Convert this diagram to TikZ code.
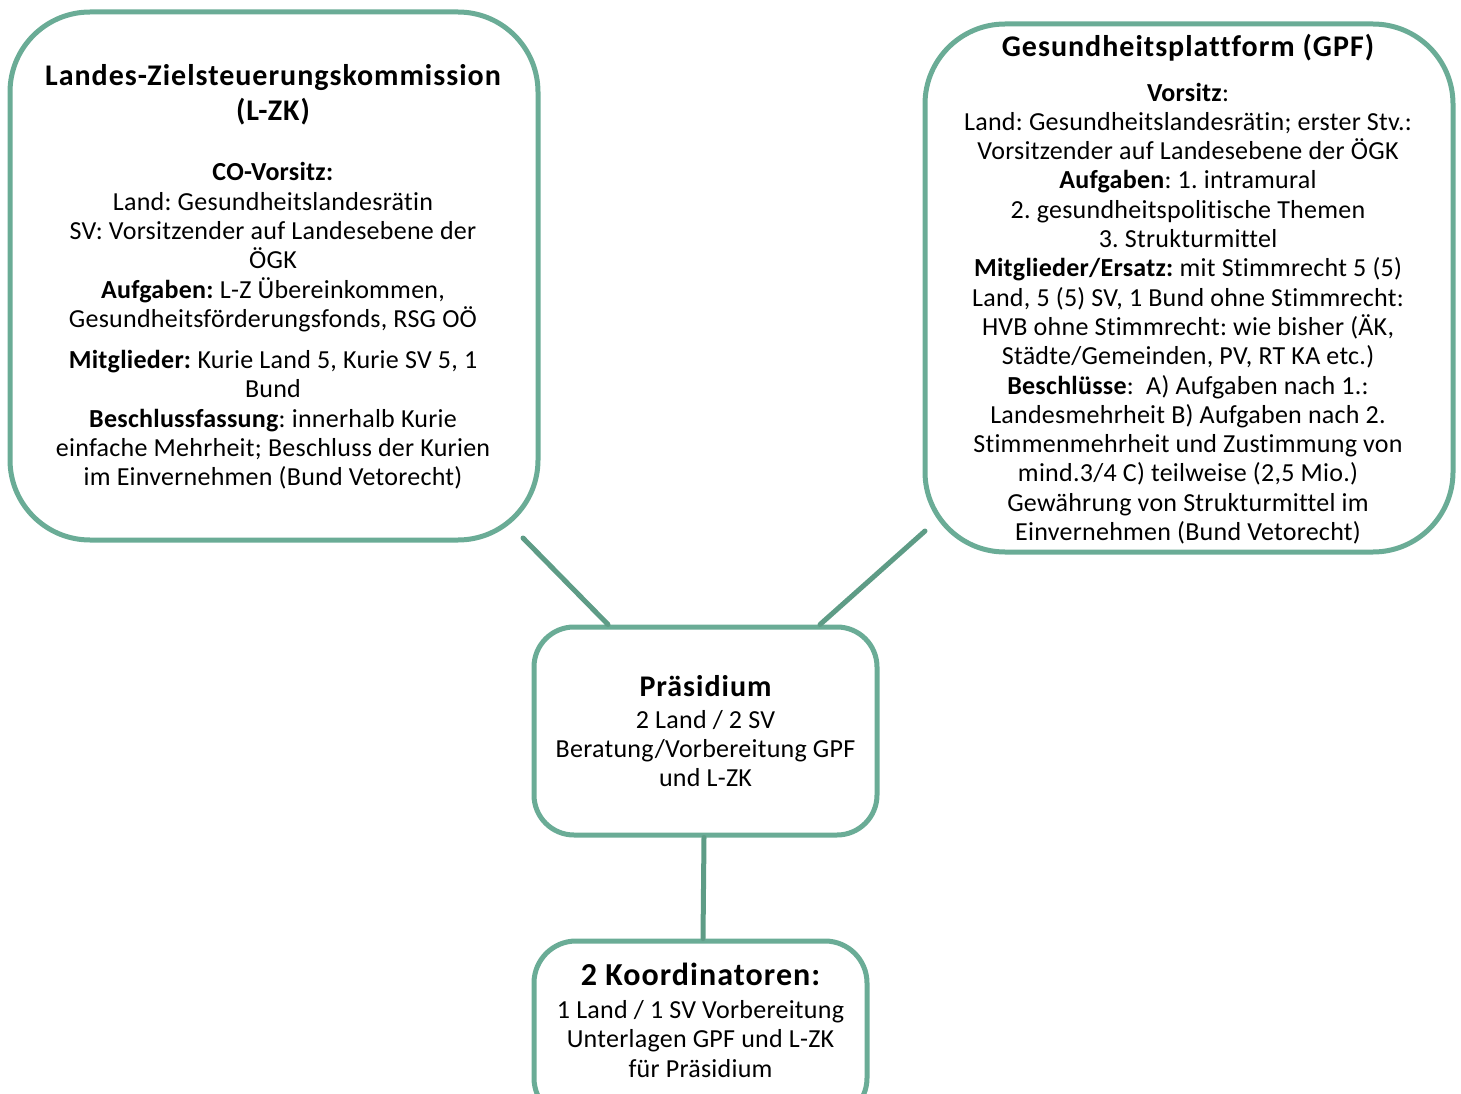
\documentclass[tikz,border=0pt]{standalone}
\usepackage{fontspec}
\setmainfont[LetterSpace=1,Ligatures=NoCommon]{Carlito}
\newfontfamily\titlefont[LetterSpace=3.3,Ligatures=NoCommon]{Carlito}
\frenchspacing
\definecolor{boxgreen}{RGB}{106,172,150}
\definecolor{linegreen}{RGB}{94,156,134}
\begin{document}
\begin{tikzpicture}[x=1pt,y=-1pt,
  box/.style={draw=boxgreen, line width=5pt, fill=white, rectangle, inner sep=0pt},
  conn/.style={draw=linegreen, line width=5pt, line cap=round},
  ttl/.style={font=\titlefont\fontsize{30}{35}\selectfont\bfseries\frenchspacing, align=center, inner sep=0pt},
  body/.style={font=\fontsize{26}{29.3}\selectfont\frenchspacing, align=center, inner sep=0pt}]
\useasboundingbox (0,0) rectangle (1461,1094);
\clip (0,0) rectangle (1461,1094);

% boxes
\node[box, rounded corners=80pt, minimum width=528pt, minimum height=528pt] (lzk) at (274,276) {};
\node[box, rounded corners=80pt, minimum width=528pt, minimum height=528pt] (gpf) at (1189,288) {};
\node[box, rounded corners=40pt, minimum width=343pt, minimum height=208pt] (pras) at (705.5,731) {};
\node[box, rounded corners=42pt, minimum width=333pt, minimum height=179pt] (koord) at (700.5,1030.5) {};

% texts
\node[ttl] (lzkt) at (273,95) {Landes-Zielsteuerungskommission\\(L-ZK)};
\node[body] (lzkb) at (273,326) {\textbf{CO-Vorsitz:}\\
Land: Gesundheitslandesrätin\\
SV: Vorsitzender auf Landesebene der\\
ÖGK\\
\textbf{Aufgaben:} L-Z Übereinkommen,\\
Gesundheitsförderungsfonds, RSG OÖ\\[12pt]
\textbf{Mitglieder:} Kurie Land 5, Kurie SV 5, 1\\
Bund\\
\textbf{Beschlussfassung}: innerhalb Kurie\\
einfache Mehrheit; Beschluss der Kurien\\
im Einvernehmen (Bund Vetorecht)};

\node[ttl] (gpft) at (1188,47.5) {Gesundheitsplattform (GPF)};
\node[body] (gpfb) at (1188,313.5) {\textbf{Vorsitz}:\\
Land: Gesundheitslandesrätin; erster Stv.:\\
Vorsitzender auf Landesebene der ÖGK\\
\textbf{Aufgaben}: 1. intramural\\
2. gesundheitspolitische Themen\\
3. Strukturmittel\\
\textbf{Mitglieder/Ersatz:} mit Stimmrecht 5 (5)\\
Land, 5 (5) SV, 1 Bund ohne Stimmrecht:\\
HVB ohne Stimmrecht: wie bisher (ÄK,\\
Städte/Gemeinden, PV, RT KA etc.)\\
\textbf{Beschlüsse}:\ \ A) Aufgaben nach 1.:\\
Landesmehrheit B) Aufgaben nach 2.\\
Stimmenmehrheit und Zustimmung von\\
mind.3/4 C) teilweise (2,5 Mio.)\\
Gewährung von Strukturmittel im\\
Einvernehmen (Bund Vetorecht)};

\node[ttl] (prast) at (705.5,686) {Präsidium};
\node[body] (prasb) at (705.5,748.5) {2 Land / 2 SV\\
Beratung/Vorbereitung GPF\\
und L-ZK};

\node[ttl, font=\titlefont\fontsize{32}{36}\selectfont\bfseries] (koordt) at (700.5,974.5) {2 Koordinatoren:};
\node[body] (koordb) at (700.5,1039) {1 Land / 1 SV Vorbereitung\\
Unterlagen GPF und L-ZK\\
für Präsidium};

% connectors
\coordinate (lzkend) at (523,538);
\coordinate (gpfend) at (925,531);
\draw[conn] (lzkend) -- ([xshift=-97.5pt]pras.north);
\draw[conn] (gpfend) -- ([xshift=114.5pt]pras.north);
\draw[conn] ([xshift=-1.5pt]pras.south) -- ([xshift=2.5pt]koord.north);
\end{tikzpicture}
\end{document}
